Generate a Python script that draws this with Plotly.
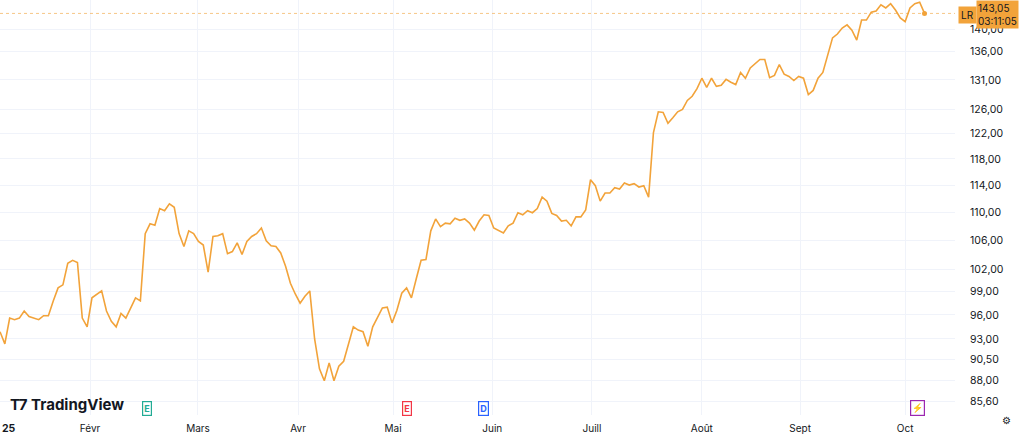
import plotly.graph_objects as go

prices = [93.9,92.4,95.6,95.4,95.6,96.5,95.8,95.6,95.4,95.9,95.9,97.8,99.5,99.9,102.8,103.2,102.9,95.6,94.5,98.2,
98.6,99.1,96.5,95.2,94.5,96.2,95.6,96.8,98.2,97.8,106.9,108.3,108.1,110.5,110.2,111.2,110.7,106.9,105.1,107.3,
106.9,105.8,105.3,101.6,106.5,106.6,106.9,104.1,104.4,105.6,104.0,105.8,106.5,106.9,107.7,105.9,105.2,105.1,104.2,102.4,
100.1,98.7,97.5,98.4,99.1,93.0,89.4,88.0,90.1,88.0,89.7,90.3,92.3,94.5,94.1,93.9,92.1,94.5,95.7,96.9,
97.0,95.0,96.6,98.8,99.5,98.2,100.7,103.2,103.3,107.3,109.0,107.9,108.4,108.3,109.1,108.8,109.0,108.4,107.4,108.7,
109.6,109.5,107.7,107.3,107.0,108.0,108.4,109.9,109.6,110.2,109.9,110.5,112.2,111.6,109.8,109.5,108.7,108.8,108.0,109.3,
109.3,110.3,114.8,113.9,111.6,112.8,112.8,113.6,113.4,114.3,114.0,114.2,113.7,113.9,112.2,122.2,125.6,125.5,123.7,124.6,
125.6,126.0,127.5,128.2,129.5,131.3,129.7,131.3,129.9,130.1,131.1,130.6,130.2,132.3,131.3,133.1,133.9,134.6,134.6,131.4,
131.8,133.7,132.0,131.6,130.9,131.6,131.3,128.5,129.2,131.3,132.3,135.3,138.5,139.2,140.3,140.9,139.9,138.1,141.8,141.8,
143.3,143.5,144.7,144.1,144.9,143.7,142.2,141.5,144.1,144.9,145.2,143.05]
days = list(range(len(prices)))

month_pos = [18.6, 40.9, 61.6, 81.2, 101.7, 122.3, 145.0, 165.3, 187.0]
month_labels = ["Févr", "Mars", "Avr", "Mai", "Juin", "Juill", "Août", "Sept", "Oct"]
y_ticks = [85.6, 88, 90.5, 93, 96, 99, 102, 106, 110, 114, 118, 122, 126, 131, 136, 140]
y_labels = [f"{v:.2f}".replace(".", ",") for v in y_ticks]
last_price = prices[-1]

line_col = "#f2a33a"
fig = go.Figure()
fig.add_trace(go.Scatter(x=days, y=prices, mode="lines", line=dict(color=line_col, width=1.6), hoverinfo="skip"))
fig.add_trace(go.Scatter(x=[days[-1]], y=[last_price], mode="markers", marker=dict(color=line_col, size=5), hoverinfo="skip"))
fig.add_hline(y=last_price, line=dict(color=line_col, width=1, dash="dot"), opacity=0.6)

grid = "#f0f3fa"
PW, PH = 955, 415
fig.update_layout(
    width=1024, height=436, margin=dict(l=0, r=69, t=0, b=21, autoexpand=False),
    paper_bgcolor="white", plot_bgcolor="white", showlegend=False,
    font=dict(family="Inter, Roboto, sans-serif", size=11, color="#131722"),
    xaxis=dict(range=[0, 197.3], tickvals=month_pos, ticktext=month_labels, showgrid=True, gridcolor=grid,
               zeroline=False, ticks="", showline=False, tickfont=dict(size=10), ticklabelstandoff=6),
    yaxis=dict(type="log", range=[1.9248, 2.1632], side="right", tickvals=y_ticks, ticktext=y_labels,
               showgrid=True, gridcolor=grid, zeroline=False, ticks="outside", ticklen=12, tickcolor="white",
               showline=False, tickfont=dict(size=10.5)),
)
fig.add_annotation(x=0, y=-(428 - PH) / PH, xref="paper", yref="paper", text="<b>25</b>", showarrow=False,
                   xanchor="left", yanchor="middle", font=dict(size=10.5))
fig.add_annotation(x=8 / PW, y=1 - 404 / PH, xref="paper", yref="paper", text="<b>T7 TradingView</b>", showarrow=False,
                   xanchor="left", yanchor="middle", font=dict(size=15, color="#131722"))
# price labels
fig.add_annotation(x=958 / PW, xref="paper", y=1 - 6 / PH, yref="paper", text="LR", showarrow=False, xanchor="left",
                   bgcolor=line_col, font=dict(size=10, color="#131722"), borderpad=2)
fig.add_annotation(x=976 / PW, xref="paper", y=1, yref="paper", text="143,05<br>03:11:05", showarrow=False,
                   xanchor="left", yanchor="top",
                   bgcolor=line_col, font=dict(size=10, color="#131722"), borderpad=1, align="left")
# event icons
for xp, txt, col in [(142, "E", "#22ab94"), (407, "E", "#f23645"), (484, "D", "#2962ff"), (925, "⚡", "#9c27b0")]:
    fig.add_annotation(x=xp / PW, xref="paper", y=1 - 416 / PH, yref="paper", text=f"<b>{txt}</b>",
                       showarrow=False, font=dict(size=9, color=col), bordercolor=col, borderwidth=1.2,
                       bgcolor="white", borderpad=1)
fig.add_annotation(x=1013 / PW, xref="paper", y=-(428 - PH) / PH, yref="paper", text="⚙", showarrow=False,
                   font=dict(size=10, color="#131722"))
fig.write_html("out.html", config={"displayModeBar": False})
with open("out.html", encoding="utf-8") as f:
    html = f.read()
html = html.replace("<head>", "<head><style>html,body{margin:0;padding:0;overflow:hidden}</style>", 1)
with open("out.html", "w", encoding="utf-8") as f:
    f.write(html)
